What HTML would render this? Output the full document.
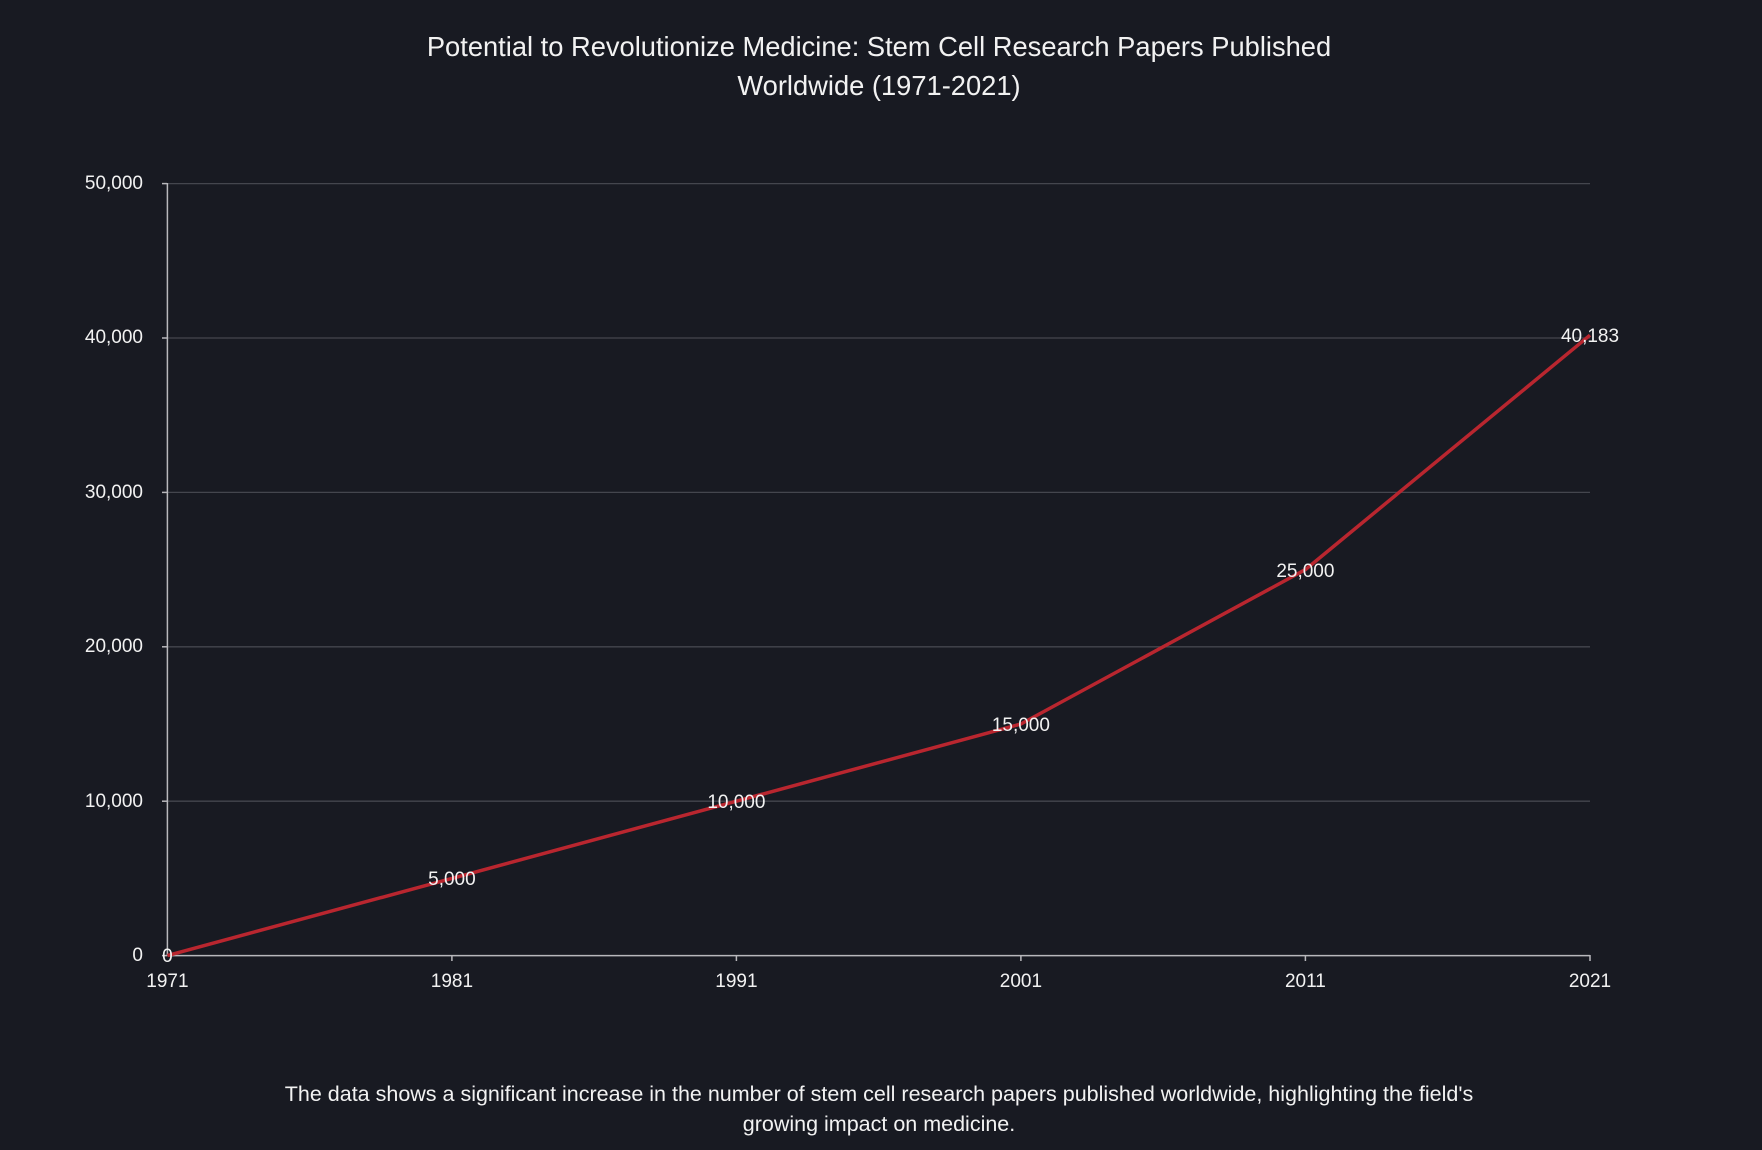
<!DOCTYPE html>
<html><head><meta charset="utf-8"><style>
html,body{margin:0;padding:0;background:#181a22;}
svg{display:block}
text{font-family:"Liberation Sans",sans-serif;fill:#f2f2f2}
</style></head><body>
<svg width="1762" height="1150" viewBox="0 0 1762 1150">
<rect width="1762" height="1150" fill="#181a22"/>
<text x="879" y="56" font-size="27.3" text-anchor="middle">Potential to Revolutionize Medicine: Stem Cell Research Papers Published</text>
<text x="879" y="95" font-size="27.3" text-anchor="middle">Worldwide (1971-2021)</text>
<g stroke="#44464e" stroke-width="1.3">
<line x1="167" y1="183.6" x2="1590" y2="183.6"/>
<line x1="167" y1="338" x2="1590" y2="338"/>
<line x1="167" y1="492.4" x2="1590" y2="492.4"/>
<line x1="167" y1="646.8" x2="1590" y2="646.8"/>
<line x1="167" y1="801.2" x2="1590" y2="801.2"/>
</g>
<g stroke="#b8b8bc" stroke-width="1.5">
<line x1="167.4" y1="183" x2="167.4" y2="955.6"/>
<line x1="167.4" y1="955.6" x2="1590" y2="955.6"/>
<line x1="162" y1="183.6" x2="167" y2="183.6"/>
<line x1="162" y1="338" x2="167" y2="338"/>
<line x1="162" y1="492.4" x2="167" y2="492.4"/>
<line x1="162" y1="646.8" x2="167" y2="646.8"/>
<line x1="162" y1="801.2" x2="167" y2="801.2"/>
<line x1="162" y1="955.6" x2="167" y2="955.6"/>
<line x1="451.9" y1="955" x2="451.9" y2="961"/>
<line x1="736.4" y1="955" x2="736.4" y2="961"/>
<line x1="1020.9" y1="955" x2="1020.9" y2="961"/>
<line x1="1305.4" y1="955" x2="1305.4" y2="961"/>
<line x1="1590" y1="955" x2="1590" y2="961"/>
</g>
<g font-size="19" text-anchor="end">
<text x="143" y="189">50,000</text>
<text x="143" y="343">40,000</text>
<text x="143" y="498">30,000</text>
<text x="143" y="652">20,000</text>
<text x="143" y="807">10,000</text>
<text x="143" y="961">0</text>
</g>
<g font-size="19" text-anchor="middle">
<text x="167.4" y="987">1971</text>
<text x="451.9" y="987">1981</text>
<text x="736.4" y="987">1991</text>
<text x="1020.9" y="987">2001</text>
<text x="1305.4" y="987">2011</text>
<text x="1590" y="987">2021</text>
</g>
<polyline fill="none" stroke="#b9262f" stroke-width="3.5" stroke-linejoin="round" points="167.4,955.6 451.9,878.4 736.4,801.2 1020.9,724 1305.4,569.6 1590,335.2"/>
<g font-size="19" text-anchor="middle">
<text x="167.4" y="962">0</text>
<text x="451.9" y="885">5,000</text>
<text x="736.4" y="808">10,000</text>
<text x="1020.9" y="731">15,000</text>
<text x="1305.4" y="577">25,000</text>
<text x="1590" y="342">40,183</text>
</g>
<text x="879" y="1101" font-size="21.5" text-anchor="middle">The data shows a significant increase in the number of stem cell research papers published worldwide, highlighting the field's</text>
<text x="879" y="1131" font-size="21.5" text-anchor="middle">growing impact on medicine.</text>
</svg>
</body></html>
